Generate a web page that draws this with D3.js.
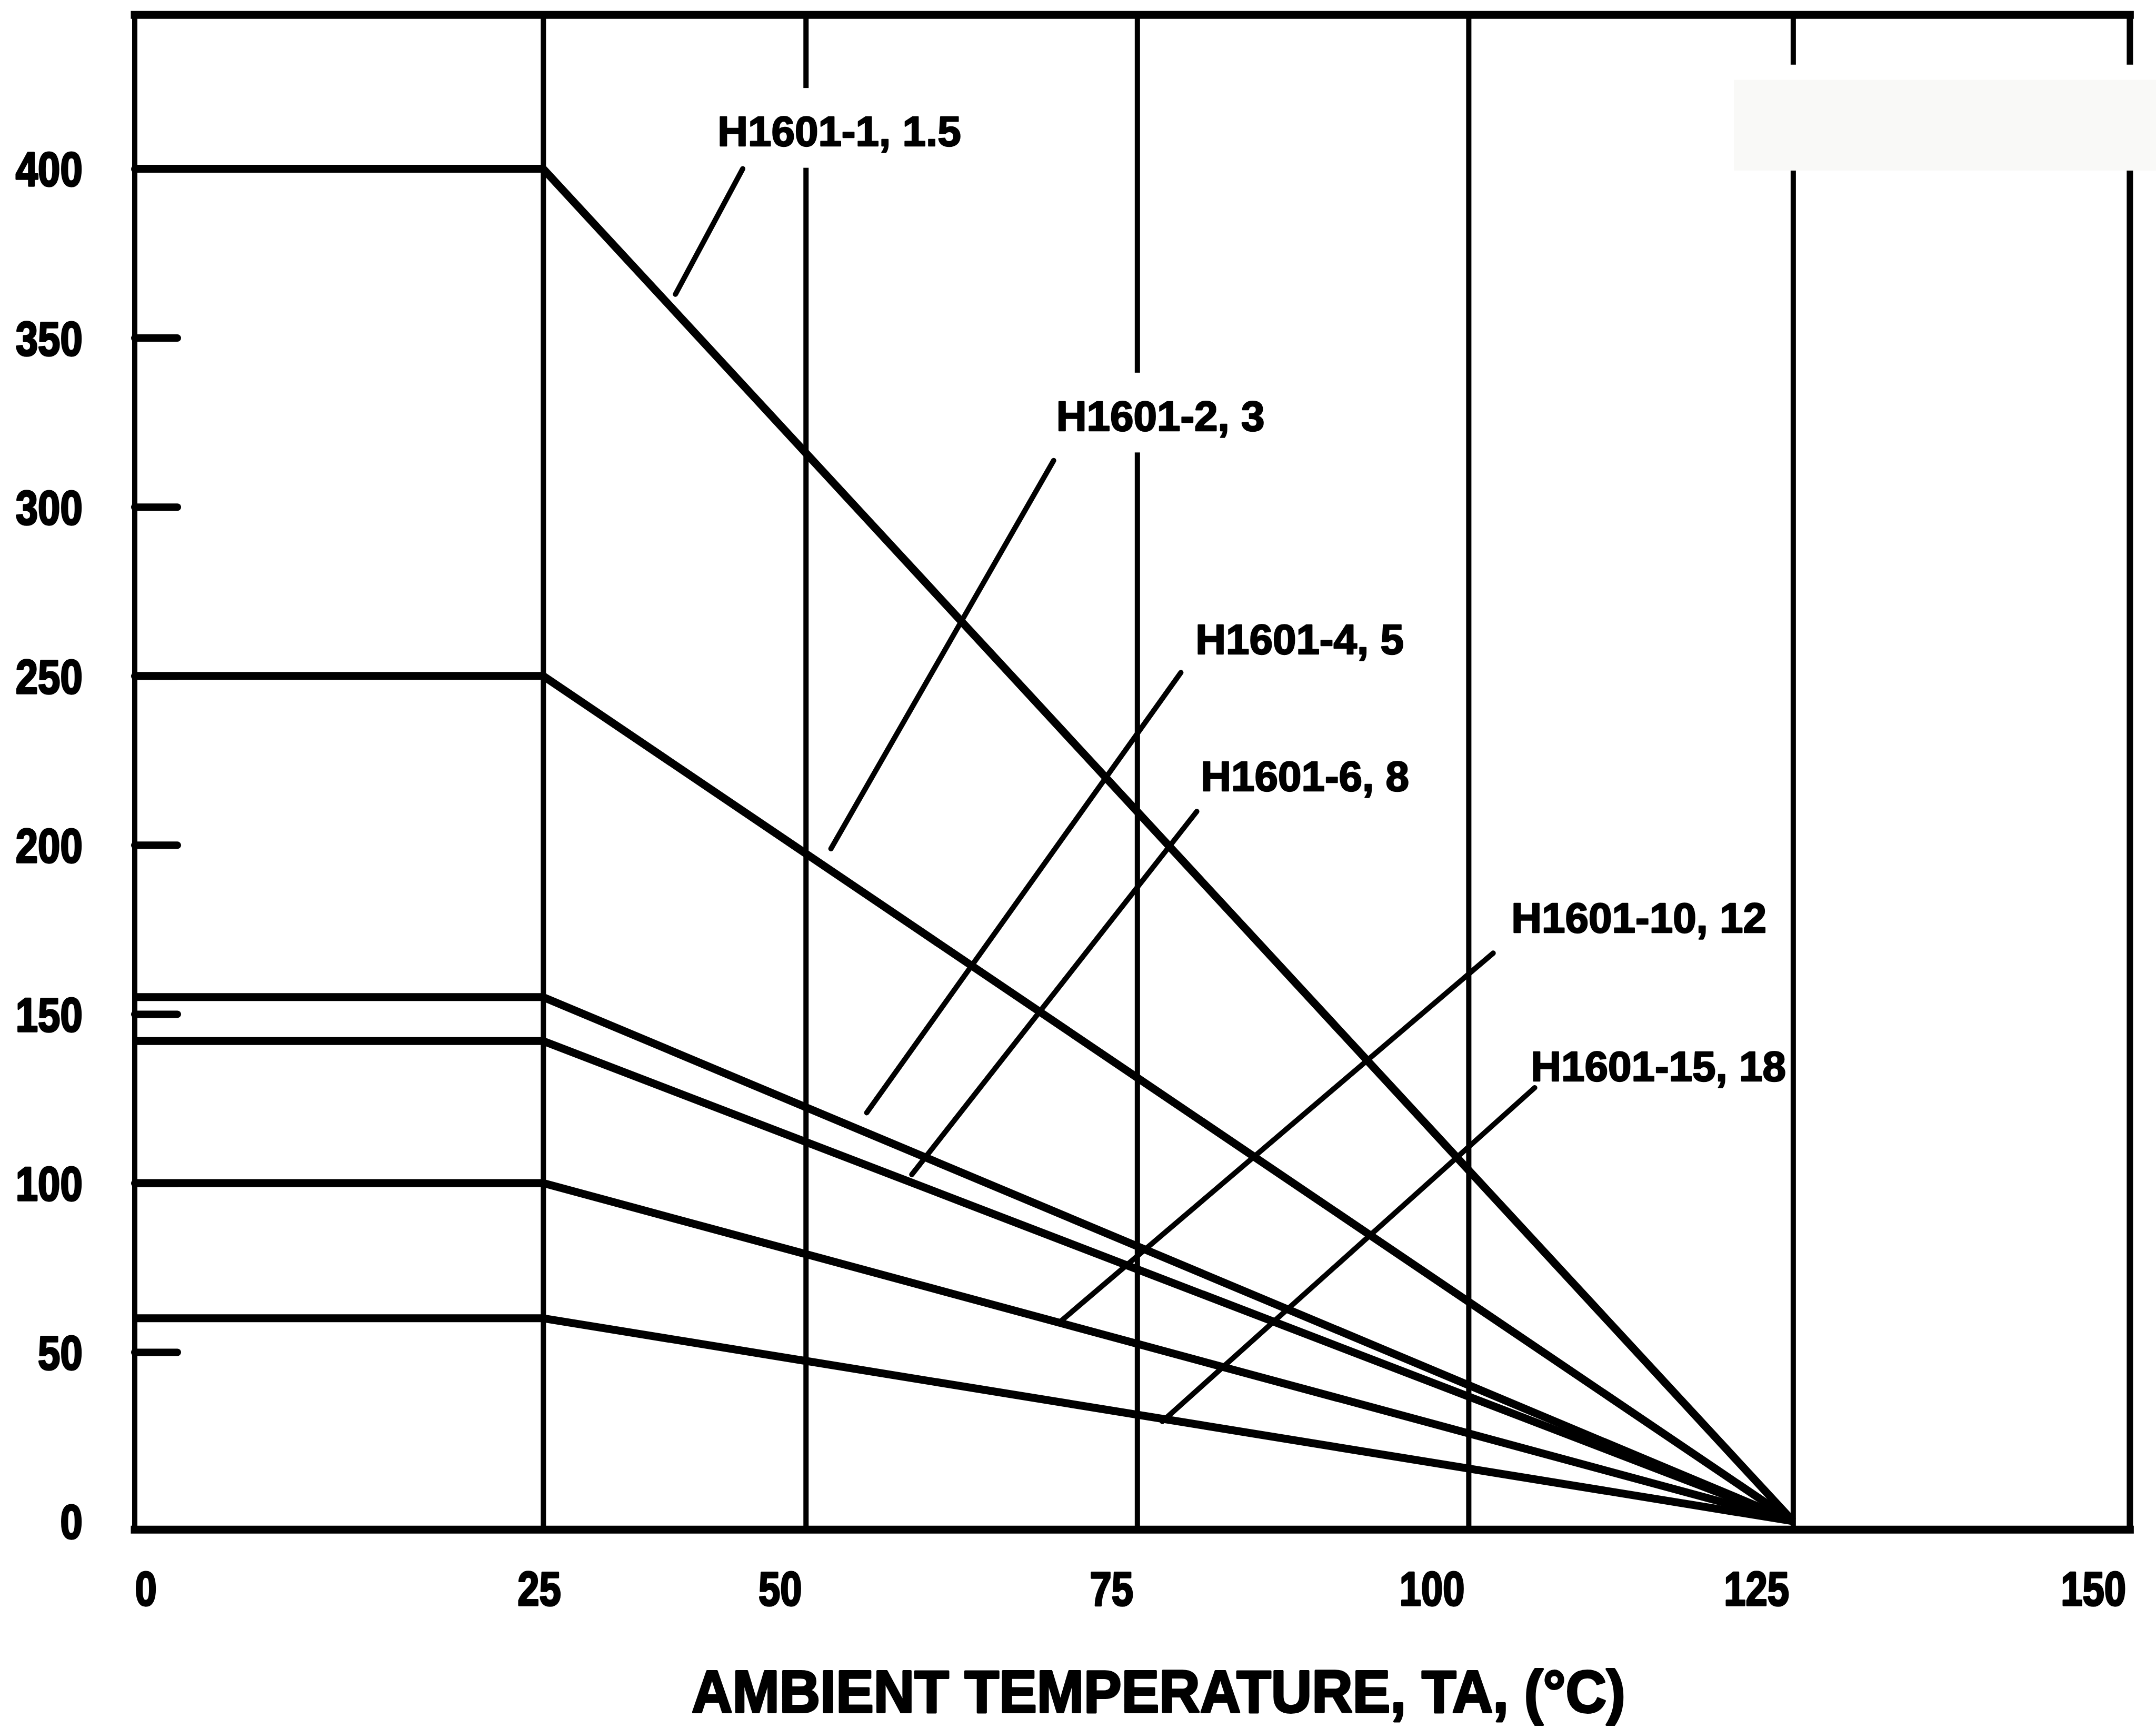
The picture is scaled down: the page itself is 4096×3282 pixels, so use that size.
<!DOCTYPE html>
<html lang="en">
<head>
<meta charset="UTF-8">
<title>Power derating vs ambient temperature</title>
<script src="https://cdn.jsdelivr.net/npm/d3@7"></script>
<style>
  html, body { margin: 0; padding: 0; background: #fff; }
  svg { display: block; }
  text { font-family: "Liberation Sans", Arial, sans-serif; font-weight: bold; fill: #000;
         stroke: #000; stroke-width: 2.5px; stroke-linejoin: round; }
</style>
</head>
<body>
<svg id="chart" width="4096" height="3282"></svg>
<script>
// values
const temps = [0, 25, 125];            // flat until 25 C, zero at 125 C
const seriesNames = ["H1601-1, 1.5", "H1601-2, 3", "H1601-4, 5", "H1601-6, 8", "H1601-10, 12", "H1601-15, 18"];
const ratingAt25 = [400, 250, 155, 142, 100, 60];
const xTicks = [0, 25, 50, 75, 100, 125, 150];
const yTicks = [0, 50, 100, 150, 200, 250, 300, 350, 400];
const xTitle = "AMBIENT TEMPERATURE, TA, (°C)";

// label anchors and leader lines, in chart units (deg C, value)
const labelT = [41.6, 68.9, 79.4, 79.8, 103.3, 104.8];
const labelV = [406.8, 322.6, 256.5, 216.0, 174.1, 130.2];
const leaderFrom = [[44, 400], [68.7, 313.7], [78.3, 251], [79.5, 209.9], [101.9, 168], [105.1, 128.2]];
const leaderTo = [[37.6, 362.9], [51.9, 198.9], [54.6, 120.8], [58, 102.5], [69.2, 59], [76.9, 29.5]];

const S = 4096 / 1568;   // layout numbers below are measured on a 1568 px wide copy
const svg = d3.select("#chart");

// the printed grid is not evenly spaced, so the x scale is piecewise
const x = d3.scaleLinear().domain(xTicks)
    .range([98, 395, 586, 827, 1068, 1304, 1549].map(v => v * S));
const y = d3.scaleLinear().domain([0, 400]).range([1106 * S, 122.7 * S]);
const yLow = -2.5, yHigh = 445.5;

const plotL = x(0), plotR = x(150), plotT = y(yHigh), plotB = y(yLow);

// vertical grid lines
const grid = svg.append("g")
    .attr("transform", `translate(0,${plotB})`)
    .call(d3.axisBottom(x).tickValues([25, 50, 75, 100, 125]).tickSize(-(plotB - plotT)).tickFormat(""));
grid.select(".domain").remove();
grid.selectAll(".tick line").attr("stroke", "#000").attr("stroke-width", 10);

// frame
const frame = svg.append("g").attr("stroke", "#000").attr("stroke-linecap", "square");
frame.append("line").attr("x1", plotL).attr("x2", plotR).attr("y1", plotT).attr("y2", plotT).attr("stroke-width", 15);
frame.append("line").attr("x1", plotL).attr("x2", plotR).attr("y1", plotB).attr("y2", plotB).attr("stroke-width", 15);
frame.append("line").attr("x1", plotL).attr("x2", plotL).attr("y1", plotT).attr("y2", plotB).attr("stroke-width", 10);
frame.append("line").attr("x1", plotR).attr("x2", plotR).attr("y1", plotT).attr("y2", plotB).attr("stroke-width", 12);

// blank patch at the top right of the scan
svg.append("rect").attr("x", 1255 * S).attr("y", 47 * S).attr("width", 4096 - 1255 * S).attr("height", 77 * S).attr("fill", "#fff");
svg.append("rect").attr("x", 1261 * S).attr("y", 58 * S).attr("width", 4096 - 1261 * S).attr("height", 66 * S).attr("fill", "#f9f9f7");

// y ticks, drawn inward from the left frame
const yAxisG = svg.append("g")
    .attr("transform", `translate(${plotL},0)`)
    .call(d3.axisRight(y).tickValues(yTicks).tickSize(81).tickFormat(d3.format("d")));
yAxisG.select(".domain").remove();
yAxisG.selectAll(".tick line").attr("stroke", "#000").attr("stroke-width", 14)
    .attr("stroke-linecap", "round")
    .filter(d => d === 0).remove();
yAxisG.selectAll(".tick text")
    .attr("x", -(98 - 60) * S)
    .attr("dy", "0.36em")
    .attr("text-anchor", "end")
    .style("font-size", "90px")
    .style("stroke-width", "3.5px")
    .attr("textLength", d => String(d).length * 16.2 * S)
    .attr("lengthAdjust", "spacingAndGlyphs");

// x tick labels
const xAxisG = svg.append("g")
    .attr("transform", `translate(0,${plotB})`)
    .call(d3.axisBottom(x).tickValues(xTicks).tickSize(0));
xAxisG.select(".domain").remove();
xAxisG.selectAll(".tick text")
    .attr("y", 55 * S)
    .attr("dy", 0)
    .attr("dx", d => d === 0 ? 0 : -3 * S)
    .attr("text-anchor", d => d === 0 ? "start" : d === 25 ? "middle" : "end")
    .style("font-size", "90px")
    .style("stroke-width", "3.5px")
    .attr("textLength", d => String(d).length * 15.8 * S)
    .attr("lengthAdjust", "spacingAndGlyphs");

// derating curves
const line = d3.line().x(d => x(d[0])).y(d => y(d[1]));
svg.append("g").selectAll("path")
    .data(ratingAt25)
    .join("path")
    .attr("d", v => line(temps.map(t => [t, t <= 25 ? v : 0])))
    .attr("fill", "none")
    .attr("stroke", "#000")
    .attr("stroke-width", 15)
    .attr("stroke-linejoin", "round");

// curve labels on white patches (the scan breaks the grid behind them)
const labels = svg.append("g");
seriesNames.forEach((name, i) => {
    const tx = x(labelT[i]), ty = y(labelV[i]);
    const bg = labels.append("rect").attr("fill", "#fff");
    const t = labels.append("text")
        .attr("x", tx).attr("y", ty)
        .style("font-size", "80px")
        .text(name);
    const w = t.node().getComputedTextLength();
    bg.attr("x", tx - 1 * S).attr("y", ty - 42 * S).attr("width", w + 2 * S).attr("height", 58 * S);
});

// leader lines
svg.append("g").selectAll("line")
    .data(leaderFrom)
    .join("line")
    .attr("x1", d => x(d[0])).attr("y1", d => y(d[1]))
    .attr("x2", (d, i) => x(leaderTo[i][0])).attr("y2", (d, i) => y(leaderTo[i][1]))
    .attr("stroke", "#000")
    .attr("stroke-width", 10)
    .attr("stroke-linecap", "round");

// axis title
svg.append("text")
    .attr("x", 842.5 * S)
    .attr("y", 1245 * S)
    .attr("text-anchor", "middle")
    .style("font-size", "113px")
    .style("stroke-width", "4px")
    .attr("textLength", 679 * S)
    .attr("lengthAdjust", "spacingAndGlyphs")
    .text(xTitle);
</script>
</body>
</html>
